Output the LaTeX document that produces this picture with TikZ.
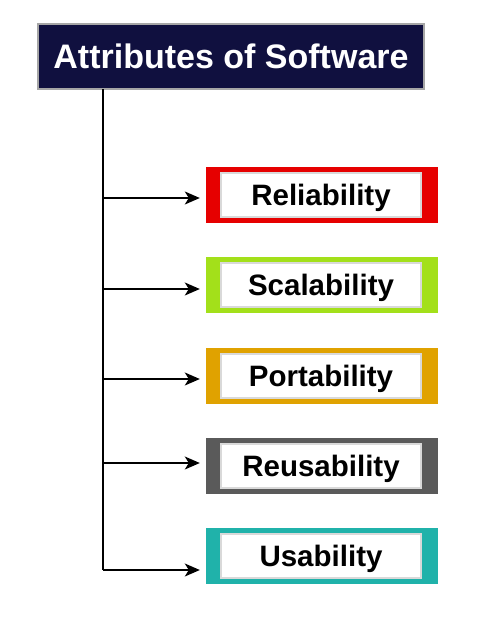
\documentclass[tikz,border=0pt]{standalone}
\usepackage{fontspec}
\setmainfont{Liberation Sans}
\usetikzlibrary{arrows.meta}
\definecolor{navy}{HTML}{10103F}
\definecolor{cRel}{HTML}{E60000}
\definecolor{cSca}{HTML}{A3E01A}
\definecolor{cPor}{HTML}{E0A200}
\definecolor{cReu}{HTML}{5A5A5A}
\definecolor{cUsa}{HTML}{20B2AA}
\tikzset{
  titlebox/.style={draw=gray!70, line width=1.5pt, fill=navy, text=white,
    font=\bfseries\fontsize{34}{38}\selectfont, minimum width=386pt, minimum height=65pt,
    inner sep=0pt, text height=24.5pt, text depth=0pt},
  outerbox/.style={fill=#1, draw=none, minimum width=232pt, minimum height=56pt, inner sep=0pt},
  innerbox/.style={fill=white, draw=gray!30, line width=1.5pt, minimum width=200pt, minimum height=44pt,
    inner sep=0pt, font=\bfseries\fontsize{29.5}{34}\selectfont, text=black,
    text height=21.2pt, text depth=0pt},
  conn/.style={line width=1.4pt, -{Stealth[length=15pt,width=13pt,inset=4pt]}},
  trunkline/.style={line width=1.4pt}
}
\begin{document}
\begin{tikzpicture}[x=1pt,y=-1pt]
\useasboundingbox (0,0) rectangle (500,626);
\node[titlebox] (title) at (231,56.5) {Attributes of Software};
\coordinate (top) at (103,89);
\coordinate (bot) at (103,570);
\draw[trunkline] (top) -- (bot);

\node[outerbox=cRel] (o1) at (322,195) {};
\node[innerbox] (b1) at (321,195) {Reliability};
\node[outerbox=cSca] (o2) at (322,285) {};
\node[innerbox] (b2) at (321,285) {Scalability};
\node[outerbox=cPor] (o3) at (322,376) {};
\node[innerbox] (b3) at (321,376) {Portability};
\node[outerbox=cReu] (o4) at (322,466) {};
\node[innerbox] (b4) at (321,466) {Reusability};
\node[outerbox=cUsa] (o5) at (322,556) {};
\node[innerbox] (b5) at (321,556) {Usability};

\coordinate (t1) at (103,198);
\coordinate (t2) at (103,289);
\coordinate (t3) at (103,379);
\coordinate (t4) at (103,463);
\draw[conn, shorten >=6pt] (t1) -- (o1.west |- t1);
\draw[conn, shorten >=6pt] (t2) -- (o2.west |- t2);
\draw[conn, shorten >=6pt] (t3) -- (o3.west |- t3);
\draw[conn, shorten >=6pt] (t4) -- (o4.west |- t4);
\draw[conn, shorten >=6pt] (bot) -- (o5.west |- bot);
\end{tikzpicture}
\end{document}
